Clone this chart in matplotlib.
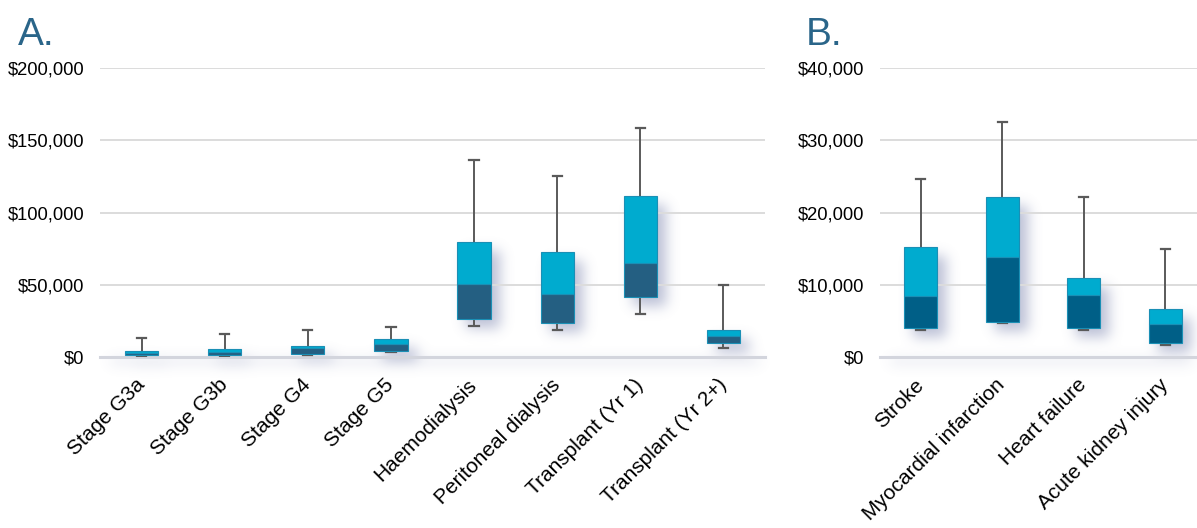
import numpy as np
import matplotlib
matplotlib.use("Agg")
import matplotlib.pyplot as plt
from matplotlib.patches import Rectangle
from matplotlib.ticker import FuncFormatter
from matplotlib.transforms import ScaledTranslation

plt.rcParams['font.family'] = ['Liberation Sans', 'DejaVu Sans']

# Panel A data (AUD)
cats_a = ["Stage G3a", "Stage G3b", "Stage G4", "Stage G5", "Haemodialysis",
          "Peritoneal dialysis", "Transplant (Yr 1)", "Transplant (Yr 2+)"]
wlo_a = [1000, 1000, 1200, 3500, 21200, 18700, 29500, 6200]
q1_a = [1400, 1400, 1900, 4200, 26300, 23800, 41300, 9700]
med_a = [2800, 3200, 6500, 9300, 50500, 43400, 65000, 14800]
q3_a = [4200, 5500, 7400, 12700, 79800, 72400, 111400, 18500]
whi_a = [13400, 16000, 18700, 21000, 136500, 125300, 158400, 50000]
yticks_a = [0, 50000, 100000, 150000, 200000]

# Panel B data (AUD)
cats_b = ["Stroke", "Myocardial infarction", "Heart failure", "Acute kidney injury"]
wlo_b = [3800, 4650, 3700, 1600]
q1_b = [4000, 4800, 4060, 1900]
med_b = [8500, 13900, 8600, 4600]
q3_b = [15200, 22200, 11000, 6700]
whi_b = [24600, 32500, 22200, 15000]
yticks_b = [0, 10000, 20000, 30000, 40000]

LIGHT = "#00abcf"
LIGHT_EDGE = "#1a8fb5"
DARK_A = "#245f82"
DARK_B = "#005f87"
WHISK = "#5a5a5a"
GRID = "#dcdcdc"
TITLE = "#2a6589"

W, H = 1197, 528
fig = plt.figure(figsize=(W / 100, H / 100), dpi=100)
fig.patch.set_facecolor("white")

shadow_mask = np.zeros((H, W))
BW = 0.4


def draw_panel(ax, cats, wlo, q1, med, q3, whi, yticks, ymax, dark, xmax, label_dx):
    n = len(cats)
    ax.set_xlim(-0.5, xmax)
    ax.set_ylim(0, ymax)
    ax.patch.set_visible(False)
    ax.set_zorder(2)
    for i in range(n):
        ax.plot([i, i], [q3[i], whi[i]], color=WHISK, lw=1.4, zorder=2)
        ax.plot([i, i], [wlo[i], q1[i]], color=WHISK, lw=1.4, zorder=2)
        cw = 0.055
        ax.plot([i - cw, i + cw], [whi[i], whi[i]], color=WHISK, lw=1.6, zorder=2)
        ax.plot([i - cw, i + cw], [wlo[i], wlo[i]], color=WHISK, lw=1.6, zorder=2)
        ax.add_patch(Rectangle((i - BW / 2, q1[i]), BW, med[i] - q1[i],
                               facecolor=dark, edgecolor=LIGHT_EDGE, lw=0.8, zorder=3))
        ax.add_patch(Rectangle((i - BW / 2, med[i]), BW, q3[i] - med[i],
                               facecolor=LIGHT, edgecolor=LIGHT_EDGE, lw=0.8, zorder=3))
    ax.set_yticks(yticks)
    ax.yaxis.set_major_formatter(FuncFormatter(lambda v, p: "${:,.0f}".format(v)))
    ax.set_xticks(range(n))
    labels = ax.set_xticklabels(cats, rotation=45, ha="right", va="center",
                                rotation_mode="anchor", fontsize=15)
    for lab, dx in zip(labels, label_dx):
        lab.set_transform(lab.get_transform() +
                          ScaledTranslation(dx / 100, 0, fig.dpi_scale_trans))
    ax.tick_params(axis="x", length=0, pad=18)
    ax.tick_params(axis="y", length=0, pad=11.5, labelsize=13.2)
    for t in yticks[1:]:
        ax.axhline(t, color=GRID, lw=1.4, zorder=0)
    ax.axhline(0, color="#d3d5dd", lw=2.2, zorder=1, clip_on=False)
    for s in ax.spines.values():
        s.set_visible(False)


def add_shadows(ax, q1, q3, xmax):
    tr = ax.transData
    for i in range(len(q1)):
        (x0, y0) = tr.transform((i - BW / 2, q1[i]))
        (x1, y1) = tr.transform((i + BW / 2, q3[i]))
        dx, dy = 9, -9
        c0 = int(round(x0 + dx)); c1 = int(round(x1 + dx))
        r0 = int(round(H - (y1 + dy))); r1 = int(round(H - (y0 + dy)))
        shadow_mask[max(r0, 0):min(r1, H), max(c0, 0):min(c1, W)] = 1.0
    (bx0, by0) = tr.transform((-0.5, 0))
    (bx1, _) = tr.transform((xmax, 0))
    r = int(round(H - by0)) + 3
    shadow_mask[r:r + 3, int(bx0) + 10:min(int(bx1) - 5, W)] = 0.8


def blur(a, sigma):
    rad = int(3 * sigma)
    k = np.exp(-0.5 * (np.arange(-rad, rad + 1) / sigma) ** 2)
    k /= k.sum()
    a = np.apply_along_axis(lambda m: np.convolve(m, k, mode="same"), 0, a)
    a = np.apply_along_axis(lambda m: np.convolve(m, k, mode="same"), 1, a)
    return a


axA = fig.add_axes([100 / W, (H - 357) / H, 665 / W, 289 / H])
draw_panel(axA, cats_a, wlo_a, q1_a, med_a, q3_a, whi_a, yticks_a, 200000, DARK_A, 7.5,
           [4, 4, 4, 3, 5, 6, 8, 22])

xmaxB = -0.5 + 317 / 81.5
axB = fig.add_axes([880 / W, (H - 357) / H, 317 / W, 289 / H])
draw_panel(axB, cats_b, wlo_b, q1_b, med_b, q3_b, whi_b, yticks_b, 40000, DARK_B, xmaxB,
           [2, 4, 4, 0])

fig.canvas.draw()
add_shadows(axA, q1_a, q3_a, 7.5)
add_shadows(axB, q1_b, q3_b, xmaxB)
m = blur(shadow_mask, 6.5)
rgba = np.zeros((H, W, 4))
rgba[..., 0] = 0.42
rgba[..., 1] = 0.46
rgba[..., 2] = 0.65
rgba[..., 3] = np.clip(m * 0.45, 0, 1)
fig.figimage(rgba, 0, 0, origin="upper", zorder=1)

fig.text(18 / W, 1 - 45 / H, "A.", fontsize=28, color=TITLE, va="baseline", ha="left")
fig.text(806 / W, 1 - 45 / H, "B.", fontsize=28, color=TITLE, va="baseline", ha="left")

fig.savefig("out.png", dpi=100, facecolor="white")
